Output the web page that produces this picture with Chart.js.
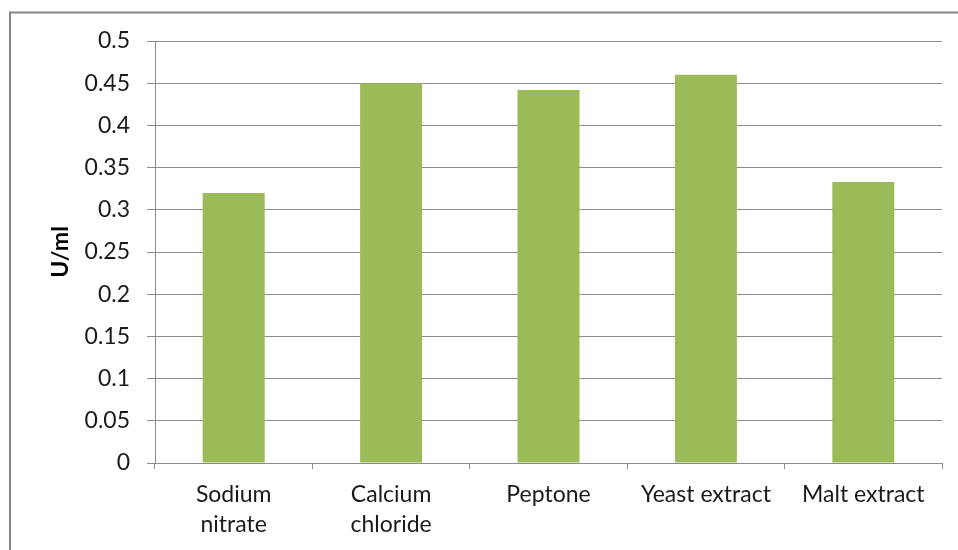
<!DOCTYPE html>
<html>
<head>
<meta charset="utf-8">
<script src="https://cdn.jsdelivr.net/npm/chart.js@4/dist/chart.umd.min.js"></script>
<style>
  html, body { margin: 0; padding: 0; background: #fff; overflow: hidden; }
  #wrap { position: relative; width: 958px; height: 550px; }
</style>
</head>
<body>
<div id="wrap"><canvas id="c" width="958" height="550"></canvas></div>
<script>
const categories = [["Sodium", "nitrate"], ["Calcium", "chloride"], "Peptone", "Yeast extract", "Malt extract"];
const values = [0.32, 0.45, 0.442, 0.46, 0.333];
const yTicks = [0, 0.05, 0.1, 0.15, 0.2, 0.25, 0.3, 0.35, 0.4, 0.45, 0.5];
const yTickLabels = ["0", "0.05", "0.1", "0.15", "0.2", "0.25", "0.3", "0.35", "0.4", "0.45", "0.5"];
const yTitle = "U/ml";

const FONT = "Lato, 'Open Sans', sans-serif";
const GRID = "#8c8c8c";

const borderPlugin = {
  id: 'outerBorder',
  beforeDraw(chart) {
    const ctx = chart.ctx;
    ctx.save();
    ctx.fillStyle = '#fff';
    ctx.fillRect(0, 0, chart.width, chart.height);
    ctx.strokeStyle = '#868686';
    ctx.lineWidth = 2;
    ctx.strokeRect(10, 12.5, 970, 580);
    ctx.restore();
  }
};

new Chart(document.getElementById('c'), {
  type: 'bar',
  data: {
    labels: categories,
    datasets: [{
      data: values,
      backgroundColor: '#9BBB59',
      borderWidth: 0,
      categoryPercentage: 1,
      barPercentage: 0.394
    }]
  },
  options: {
    responsive: false,
    animation: false,
    devicePixelRatio: 1,
    layout: { padding: { left: 40, right: 16, top: 41, bottom: 0 } },
    plugins: { legend: { display: false }, tooltip: { enabled: false } },
    scales: {
      x: {
        grid: { offset: true, drawOnChartArea: false, drawTicks: true, tickLength: 6, color: GRID },
        border: { color: GRID, width: 1 },
        ticks: { color: '#1a1a1a', font: { family: FONT, size: 23, lineHeight: 1.3 }, padding: 11, maxRotation: 0, autoSkip: false },
        afterFit(scale) { scale.height = 87; }
      },
      y: {
        min: 0, max: 0.5,
        afterBuildTicks(scale) { scale.ticks = yTicks.map(v => ({ value: v })); },
        grid: { color: GRID, tickLength: 8, lineWidth: 1 },
        border: { color: GRID, width: 1 },
        ticks: {
          color: '#1a1a1a', font: { family: FONT, size: 23 }, padding: 17,
          callback: (v, i) => yTickLabels[i]
        },
        title: { display: true, text: yTitle, color: '#000', font: { family: FONT, size: 23, weight: 'bold' }, padding: { top: 7, bottom: 0 } },
        afterFit(scale) { scale.width = 115; }
      }
    }
  },
  plugins: [borderPlugin]
});
</script>
</body>
</html>
